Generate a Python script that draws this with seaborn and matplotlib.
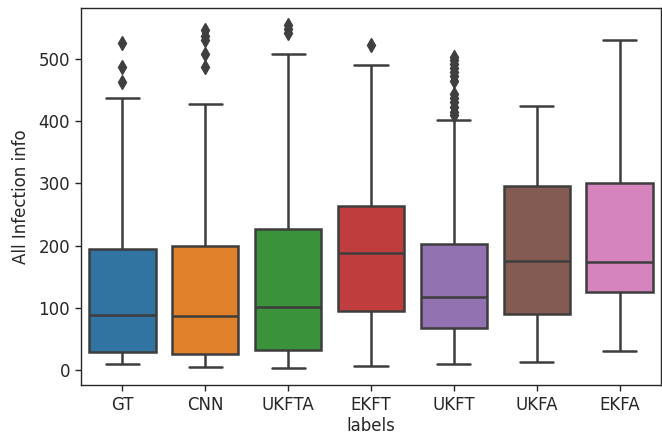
import matplotlib
matplotlib.use("Agg")
import numpy as np
import pandas as pd
import matplotlib.pyplot as plt
import seaborn as sns

# box summary
LABELS = ["GT", "CNN", "UKFTA", "EKFT", "UKFT", "UKFA", "EKFA"]
WHISKER_LOW = [10, 5, 4, 7, 10, 13, 31]
Q1 = [30, 26, 32, 96, 68, 90, 125]
MEDIAN = [89, 88, 102, 188, 118, 175, 174]
Q3 = [194, 200, 227, 264, 202, 296, 300]
WHISKER_HIGH = [437, 428, 507, 490, 402, 425, 530]
OUTLIERS = [
    [463, 486, 525],
    [487, 508, 530, 537, 546],
    [541, 548, 554],
    [522],
    [410, 415, 422, 430, 437, 443, 465, 472, 478, 485, 492, 498, 503],
    [],
    [],
]


def build_samples():
    # 4k+1 points so that the quartiles land exactly on the read values
    rows = []
    for i, label in enumerate(LABELS):
        k = len(OUTLIERS[i]) + 1
        values = ([WHISKER_LOW[i]] * k + [Q1[i]] * k + [MEDIAN[i]]
                  + [Q3[i]] * k + [WHISKER_HIGH[i]] + OUTLIERS[i])
        for v in values:
            rows.append({"labels": label, "All Infection info": v})
    return pd.DataFrame(rows)


def main():
    df = build_samples()
    sns.set_theme(style="ticks")
    plt.rcParams["font.family"] = ["DejaVu Sans"]

    fig, ax = plt.subplots(figsize=(6.62, 4.34), dpi=100)
    fig.subplots_adjust(left=0.1224, right=0.9985, top=0.9816, bottom=0.1129)

    gray = "#3f3f3f"
    sns.boxplot(data=df, x="labels", y="All Infection info", hue="labels",
                order=LABELS, hue_order=LABELS, palette="tab10", legend=False,
                linewidth=1.8, width=0.8, ax=ax,
                flierprops=dict(marker="d", markersize=7.5,
                                markerfacecolor=gray, markeredgecolor=gray))

    ax.tick_params(axis="both", labelsize=12, length=4.5, width=1.0)
    ax.set_xlabel("labels", fontsize=12, labelpad=2)
    ax.set_ylabel("All Infection info", fontsize=12, labelpad=6)
    for s in ax.spines.values():
        s.set_linewidth(1.0)

    fig.savefig("out.png", dpi=100)


if __name__ == "__main__":
    main()
